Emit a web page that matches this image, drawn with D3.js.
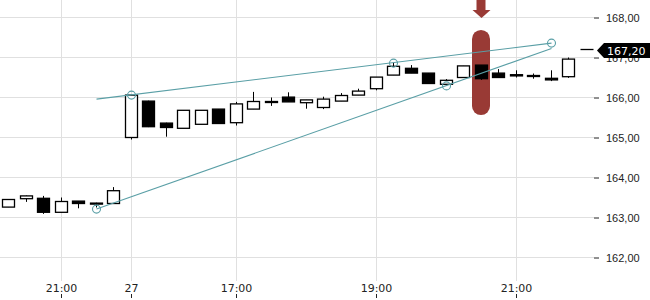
<!DOCTYPE html>
<html lang="en">
  <head>
    <meta charset="utf-8">
    <title>Candles</title>
    <style>
      body { margin: 0; background: #fff; }
      svg { display: block; font-family: "DejaVu Sans", sans-serif; }
      .grid line { stroke: #e0e0e0; }
      .axis text { font-size: 11px; fill: #222; }
      .axis line { stroke: #222; }
      .axis .domain { display: none; }
    </style>
  </head>
  <body>
    <svg width="650" height="300" id="svg"></svg>

    <script src="https://cdnjs.cloudflare.com/ajax/libs/d3/7.8.5/d3.min.js"></script>
    <script>

    // 15 minute candles, day 26 evening then day 27
    var times = [
      "26 20:15", "26 20:30", "26 20:45", "26 21:00", "26 21:15", "26 21:30", "26 21:45",
      "27 15:30", "27 15:45", "27 16:00", "27 16:15", "27 16:30", "27 16:45", "27 17:00",
      "27 17:15", "27 17:30", "27 17:45", "27 18:00", "27 18:15", "27 18:30", "27 18:45",
      "27 19:00", "27 19:15", "27 19:30", "27 19:45", "27 20:00", "27 20:15", "27 20:30",
      "27 20:45", "27 21:00", "27 21:15", "27 21:30", "27 21:45", "27 22:00"
    ];
    var opens  = [163.26, 163.47, 163.48, 163.13, 163.41, 163.36, 163.35,
                  165.00, 165.91, 165.36, 165.23, 165.33, 165.71, 165.37,
                  165.71, 165.90, 166.01, 165.87, 165.75, 165.91, 166.06,
                  166.22, 166.56, 166.73, 166.61, 166.33, 166.50, 166.81,
                  166.61, 166.57, 166.55, 166.48, 166.52, 167.20];
    var highs  = [163.46, 163.55, 163.54, 163.50, 163.41, 163.37, 163.76,
                  166.06, 165.92, 165.37, 165.68, 165.68, 165.71, 165.89,
                  166.14, 166.00, 166.13, 165.94, 166.02, 166.11, 166.22,
                  166.51, 166.87, 166.81, 166.61, 166.46, 166.79, 166.81,
                  166.71, 166.68, 166.60, 166.68, 167.00, 167.20];
    var lows   = [163.26, 163.39, 163.09, 163.12, 163.23, 163.25, 163.35,
                  164.95, 165.26, 165.02, 165.23, 165.33, 165.35, 165.30,
                  165.71, 165.79, 165.89, 165.72, 165.71, 165.91, 166.06,
                  166.18, 166.56, 166.61, 166.35, 166.33, 166.50, 166.44,
                  166.50, 166.50, 166.47, 166.41, 166.49, 167.20];
    var closes = [163.45, 163.54, 163.13, 163.40, 163.35, 163.35, 163.67,
                  166.06, 165.27, 165.25, 165.68, 165.68, 165.35, 165.84,
                  165.90, 165.89, 165.89, 165.94, 165.96, 166.05, 166.16,
                  166.51, 166.78, 166.61, 166.35, 166.43, 166.79, 166.47,
                  166.50, 166.54, 166.53, 166.44, 166.96, 167.20];

    var tickTimes  = ["26 21:00", "27 15:30", "27 17:00", "27 19:00", "27 21:00"];
    var tickLabels = ["21:00", "27", "17:00", "19:00", "21:00"];
    var priceTicks = [162, 163, 164, 165, 166, 167, 168];

    // drawn trend lines: [start time, start value, end time, end value]
    var trendUpper = ["26 21:30", 165.96, "27 21:30", 167.36];
    var trendLower = ["26 21:30", 163.21, "27 21:30", 167.225];
    var anchorTimes  = ["26 21:30", "27 15:30", "27 19:15", "27 20:00", "27 21:30"];
    var anchorValues = [163.21, 166.06, 166.86, 166.29, 167.36];

    var markTime = "27 20:30";
    var markRange = [165.56, 167.69];

    var svg = d3.select("svg"),
        width = 595,
        height = 300;

    var x = d3.scaleBand().domain(times).range([-0.5, width - 0.5]),
        y = d3.scaleLinear().domain([162, 168]).range([257.5, 17.5]);

    function cx(t) { return Math.round(x(t) + x.bandwidth() / 2) + 0.5; }

    // grid
    var grid = svg.append("g").attr("class", "grid");
    grid.selectAll(".h").data(priceTicks).enter().append("line")
        .attr("x1", 0).attr("x2", width - 1)
        .attr("y1", function(d) { return y(d); })
        .attr("y2", function(d) { return y(d); });
    grid.selectAll(".v").data(tickTimes).enter().append("line")
        .attr("x1", cx).attr("x2", cx)
        .attr("y1", 0).attr("y2", 281);

    // highlight marker
    var mx = cx(markTime);
    svg.append("rect")
        .attr("x", mx - 9.5).attr("width", 18)
        .attr("y", y(markRange[1])).attr("height", y(markRange[0]) - y(markRange[1]))
        .attr("rx", 9).attr("ry", 9)
        .attr("fill", "#993a35");
    svg.append("path")
        .attr("d", "M" + (mx - 5) + ",0V10H" + (mx - 9) + "L" + mx + ",18L" + (mx + 9) + ",10H" + (mx + 4) + "V0Z")
        .attr("fill", "#993a35");

    // candles
    var data = times.map(function(t, i) {
      return {t: t, o: opens[i], h: highs[i], l: lows[i], c: closes[i]};
    });

    var candle = svg.append("g").selectAll("g")
      .data(data)
      .enter().append("g");

    candle.filter(function(d) { return d.h !== d.l; })
      .append("line")
        .attr("x1", function(d) { return cx(d.t); })
        .attr("x2", function(d) { return cx(d.t); })
        .attr("y1", function(d) { return y(d.h); })
        .attr("y2", function(d) { return y(d.l); })
        .attr("stroke", "#000").attr("stroke-width", 1);

    candle.filter(function(d) { return d.h !== d.l; })
      .append("rect")
        .attr("x", function(d) { return cx(d.t) - 6; })
        .attr("width", 12)
        .attr("y", function(d) { return y(Math.max(d.o, d.c)); })
        .attr("height", function(d) { return Math.max(1, Math.abs(y(d.o) - y(d.c))); })
        .attr("fill", function(d) { return d.c >= d.o ? "#fff" : "#000"; })
        .attr("stroke", "#000").attr("stroke-width", 1.3);

    // last (flat) candle
    candle.filter(function(d) { return d.h === d.l; })
      .append("line")
        .attr("x1", function(d) { return cx(d.t) - 6; })
        .attr("x2", function(d) { return cx(d.t) + 7; })
        .attr("y1", function(d) { return y(d.c); })
        .attr("y2", function(d) { return y(d.c); })
        .attr("stroke", "#000").attr("stroke-width", 1.3);

    // trend lines
    var teal = "#5a9fa6";
    [trendUpper, trendLower].forEach(function(tl) {
      svg.append("line")
          .attr("x1", cx(tl[0])).attr("y1", y(tl[1]))
          .attr("x2", cx(tl[2])).attr("y2", y(tl[3]))
          .attr("stroke", teal).attr("stroke-width", 1.1);
    });
    svg.selectAll(".anchor").data(anchorTimes).enter().append("circle")
        .attr("cx", cx)
        .attr("cy", function(d, i) { return y(anchorValues[i]); })
        .attr("r", 4)
        .attr("fill", "none")
        .attr("stroke", teal).attr("stroke-width", 1.1);

    // axes
    svg.append("g")
        .attr("class", "axis axis--y")
        .attr("transform", "translate(594,0)")
        .call(d3.axisRight(y).tickValues(priceTicks).tickSize(5).tickPadding(7)
          .tickFormat(function(d) { return d.toFixed(2).replace(".", ","); }));

    var xa = svg.append("g").attr("class", "axis axis--x");
    xa.selectAll("text").data(tickTimes).enter().append("text")
        .attr("x", cx).attr("y", 292)
        .attr("text-anchor", "middle")
        .text(function(d, i) { return tickLabels[i]; });
    xa.selectAll("line").data(tickTimes).enter().append("line")
        .attr("x1", cx).attr("x2", cx)
        .attr("y1", 294).attr("y2", 298);

    // last price label
    var last = closes[closes.length - 1],
        ly = Math.round(y(last)) + 0.5;
    svg.append("path")
        .attr("d", "M597," + ly + "L604," + (ly - 7.5) + "H650V" + (ly + 7.5) + "H604Z")
        .attr("fill", "#000");
    svg.append("text")
        .attr("x", 607).attr("y", ly + 4)
        .attr("font-size", 11).attr("fill", "#fff")
        .text(last.toFixed(2).replace(".", ","));

    </script>
  </body>
</html>
